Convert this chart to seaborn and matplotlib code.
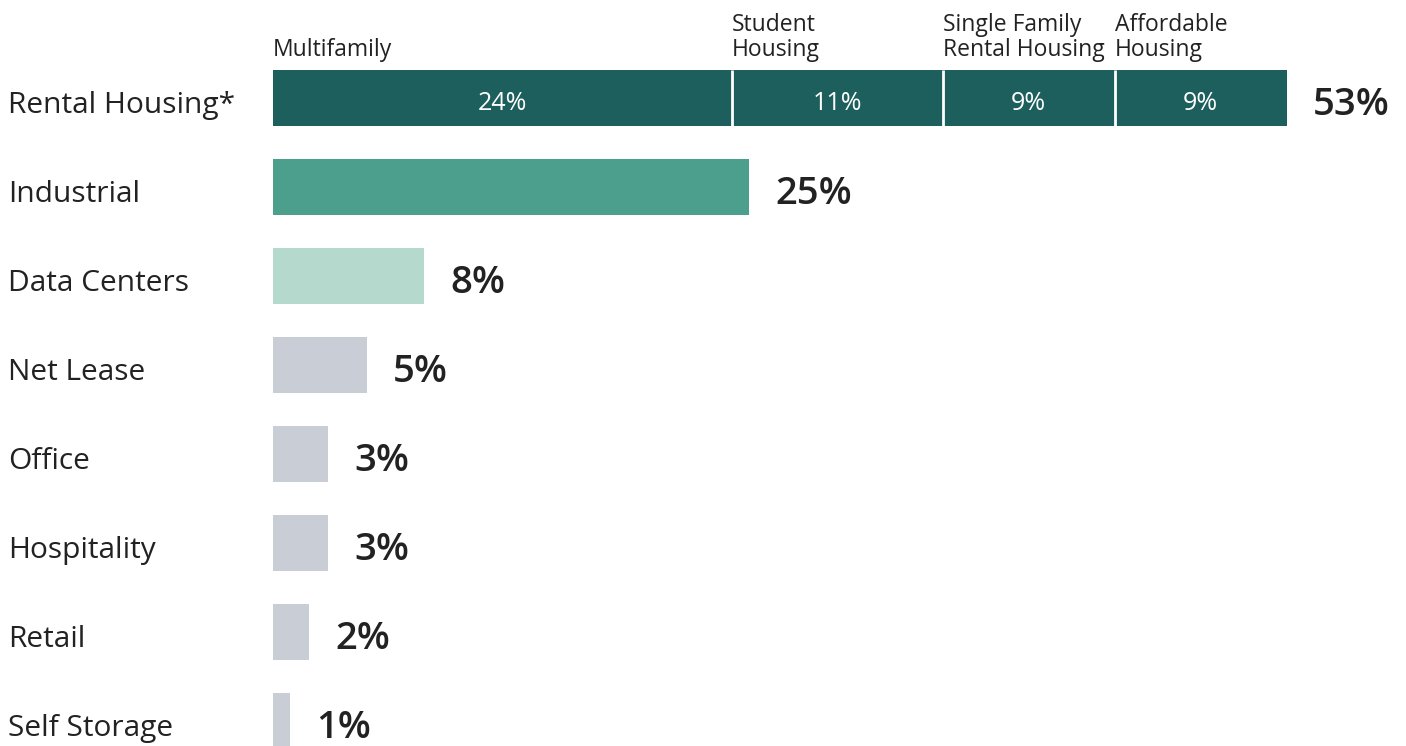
import matplotlib
matplotlib.use("Agg")
import matplotlib.pyplot as plt
import matplotlib.transforms as mtransforms
import seaborn as sns
import pandas as pd
import numpy as np

categories = ["Rental Housing*", "Industrial", "Data Centers", "Net Lease",
              "Office", "Hospitality", "Retail", "Self Storage"]
values = [53, 24.9, 7.9, 4.9, 2.9, 2.9, 1.9, 0.9]
value_labels = ["53%", "25%", "8%", "5%", "3%", "3%", "2%", "1%"]
bar_colors = ["#1C5F5C", "#4C9F8C", "#B5D9CC", "#C9CDD6",
              "#C9CDD6", "#C9CDD6", "#C9CDD6", "#C9CDD6"]

segments = ["Multifamily", "Student\nHousing", "Single Family\nRental Housing", "Affordable\nHousing"]
segment_values = [24, 11, 9, 9]
segment_labels = ["24%", "11%", "9%", "9%"]

sns.set_theme(style="white")
FONT = "Open Sans"
plt.rcParams["font.family"] = [FONT, "DejaVu Sans"]

W, H = 1406, 746
fig = plt.figure(figsize=(W / 100, H / 100), dpi=100)
x0_px = 273
px_per = 19.13
ax = fig.add_axes([x0_px / W, 0, 1 - x0_px / W, 1])

df = pd.DataFrame({"category": categories, "value": values})
df_main = df.copy()
df_main.loc[0, "value"] = 0  # rental housing drawn as segments
sns.barplot(data=df_main, y="category", x="value", hue="category",
            palette=bar_colors, orient="h", width=0.64, legend=False,
            ax=ax, saturation=1, edgecolor="none")

left = np.concatenate([[0], np.cumsum(segment_values)[:-1]])
ax.barh([0] * len(segment_values), segment_values, left=left, height=0.64,
        color=bar_colors[0], edgecolor="none")
for l in left[1:]:
    ax.plot([l, l], [-0.32, 0.32], color="white", lw=2, solid_capstyle="butt")

row_px = 89
top_px = 98
ax.set_xlim(0, (W - x0_px) / px_per)
ax.set_ylim((H - top_px) / row_px, -top_px / row_px)

for l, v, lab, name in zip(left, segment_values, segment_labels, segments):
    ax.text(l + v / 2, 0.135, lab, color="white", ha="center", va="baseline",
            fontsize=18)
    ax.text(l, -0.47, name, color="#222222", ha="left", va="baseline",
            fontsize=16.5, linespacing=1.05)

gap = 26 / px_per
for i, (v, lab) in enumerate(zip(values, value_labels)):
    ax.text(v + gap, i + 0.19, lab, ha="left", va="baseline", fontsize=27.5,
            fontweight="semibold", color="#222222")

trans = mtransforms.blended_transform_factory(fig.transFigure, ax.transData)
for i, c in enumerate(categories):
    ax.text(8 / W, i + 0.17, c, transform=trans, ha="left", va="baseline",
            fontsize=21.5, color="#222222")

ax.set_axis_off()
fig.savefig("out.png", dpi=100, facecolor="white")
